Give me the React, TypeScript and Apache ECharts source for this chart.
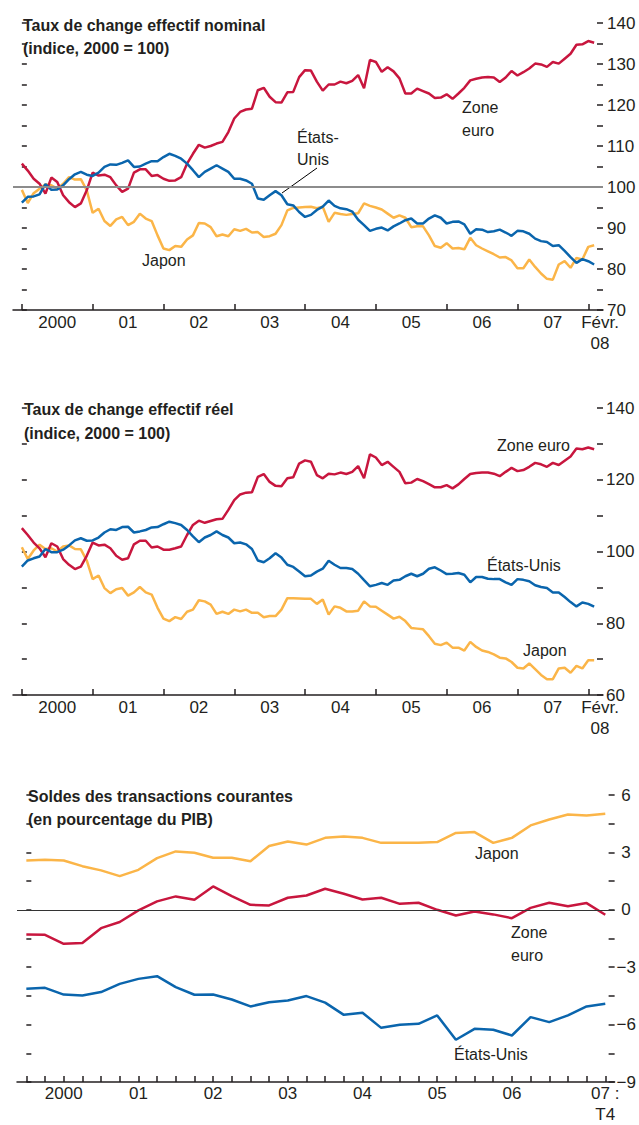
import React, { useEffect, useRef } from 'react';
import * as echarts from 'echarts';

const FONT = "'Liberation Sans', Arial, Helvetica, sans-serif";
const RED = '#c8163e';
const BLUE = '#0a65ad';
const YELLOW = '#fbb548';
const INK = '#231f20';

// ---- Panel 1: nominal effective exchange rate (monthly, Jan 2000 - Feb 2008)
const euroNominal = [
  105.7, 104, 102, 100.8, 98.4, 102.3, 101.2, 98, 96.3, 95.1, 96, 99.2,
  103.5, 102.8, 103, 102.4, 100.4, 98.8, 99.6, 103.5, 104.3, 104.3, 102.7, 102.9,
  102, 101.5, 101.6, 102.4, 105.7, 108.1, 110.3, 109.6, 110, 110.6, 111, 113.4,
  116.7, 118.3, 118.9, 119.1, 123.6, 124.2, 122, 120.7, 120.6, 123.1, 123.2, 126.8,
  128.5, 128.4, 125.7, 123.5, 125, 125, 125.7, 125.3, 125.9, 127.3, 124.1, 131,
  130.5, 128.1, 129.2, 128.2, 126.5, 122.8, 122.8, 124, 123.4, 122.8, 121.7, 121.8,
  122.6, 121.5, 122.8, 124.2, 126, 126.4, 126.7, 126.8, 126.7, 125.6, 126.7, 128.3,
  127.2, 128, 128.9, 130.1, 129.9, 129.3, 130.5, 130.1, 131.3, 132.5, 134.7, 134.8,
  135.6, 135.2,
];
const usNominal = [
  96.2, 97.6, 97.7, 98.2, 100.7, 99.3, 99.4, 100.4, 101.9, 103.1, 103.7, 103,
  102.7, 103.5, 104.9, 105.5, 105.4, 105.9, 106.5, 104.9, 105, 105.7, 106.3, 106.3,
  107.3, 108.1, 107.6, 106.9, 105.7, 104.1, 102.4, 103.7, 104.5, 105.3, 104.5, 103.7,
  102, 102, 101.6, 100.8, 97.2, 96.9, 98, 99, 98, 95.8, 95.5, 93.9,
  92.7, 93.2, 94.4, 95.2, 96.7, 95.4, 94.8, 94.6, 94, 92, 90.7, 89.3,
  89.8, 90.1, 89.4, 90.4, 91.1, 91.9, 92.3, 91.1, 91.1, 92.3, 93.1, 92.5,
  91.1, 91.5, 91.6, 90.9, 88.6, 89.7, 89.6, 89, 89.2, 89.6, 88.9, 88.1,
  89.3, 89.2, 88.6, 87.4, 86.8, 86.6, 85.6, 85.8, 84.4, 82.9, 81.5, 82.4,
  81.9, 81.1,
];
const japanNominal = [
  99.3, 96.1, 98.5, 99.6, 100.6, 100.4, 99.6, 100.8, 102.4, 101.8, 101.9, 99.2,
  93.7, 94.7, 91.7, 90.5, 92.1, 92.7, 90.7, 91.5, 93.5, 92.3, 91.7, 88.2,
  85, 84.6, 85.6, 85.4, 87.2, 88.2, 91.2, 91.1, 90.2, 88, 88.4, 88,
  89.7, 89.3, 89.8, 88.9, 89, 87.8, 88, 88.6, 90.7, 94.3, 94.9, 95,
  95.1, 95.2, 94.8, 95.2, 91.5, 93.7, 93.4, 93.2, 93.4, 93.6, 96, 95.4,
  95, 94.5, 93.5, 92.5, 93.1, 92.5, 90.2, 90.4, 90.4, 88.2, 85.6, 85.2,
  86.3, 85, 85.1, 84.8, 87.6, 85.8, 85, 84.3, 83.6, 82.8, 82.9, 82.1,
  80.2, 80.2, 82.3, 80.5, 78.9, 77.6, 77.4, 81.1, 81.9, 80.3, 82.7, 82.3,
  85.4, 85.8,
];

// ---- Panel 2: real effective exchange rate (monthly)
const euroReal = [
  106.5, 104.6, 102.5, 100.9, 98.4, 102.3, 101.4, 97.9, 96.3, 95.1, 95.8, 98.8,
  102.5, 101.7, 101.9, 100.9, 98.8, 97.7, 98.1, 102, 103, 103, 101.1, 101.4,
  100.5, 100.5, 100.9, 101.4, 104.6, 107.4, 108.6, 108, 108.5, 109, 109.1, 111.6,
  114.3, 115.9, 116.4, 116.5, 120.8, 121.6, 119.4, 118.3, 118.2, 120.4, 120.7, 124.5,
  125.4, 125, 121.3, 120.4, 121.7, 121.5, 122, 121.6, 122.2, 123.8, 120.4, 127.1,
  126.2, 124.1, 125, 123.6, 122.2, 119, 119.2, 120.2, 119.6, 118.8, 117.9, 117.9,
  118.5, 117.6, 118.7, 120.2, 121.6, 121.9, 122, 122, 121.7, 121, 122.2, 123.3,
  122.4, 122.7, 123.6, 124.7, 124.3, 123.6, 124.7, 124.1, 125.3, 126.5, 128.7, 128.5,
  129, 128.5,
];
const usReal = [
  95.8, 97.5, 98.1, 98.6, 100.7, 99.8, 99.8, 100.5, 101.7, 103.1, 103.7, 103,
  103.1, 103.9, 105.3, 106.2, 106, 106.8, 106.9, 105.3, 105.6, 106, 106.7, 106.8,
  107.6, 108.3, 107.9, 107.4, 106, 104.2, 102.6, 103.9, 104.6, 105.6, 104.6, 103.9,
  102.3, 102.5, 102, 100.7, 97.5, 97, 98.1, 99.5, 98.3, 96.3, 95.7, 94.4,
  93.1, 93.3, 94.4, 95.2, 97.4, 96.3, 95.4, 95.4, 95.1, 93.8, 92, 90.3,
  90.7, 91.2, 90.7, 91.9, 92.1, 93.1, 93.8, 93.1, 93.8, 95.2, 95.6, 94.7,
  93.7, 93.8, 94, 93.5, 91.4, 92.9, 92.9, 92.4, 92.3, 92.3, 91.4, 90.7,
  92.3, 92.1, 91.7, 90.6, 90.1, 89.8, 88.6, 88.6, 87.3, 85.9, 84.7, 85.8,
  85.4, 84.6,
];
const japanReal = [
  101.2, 97.9, 100.3, 101.9, 100.7, 100.9, 100, 101.4, 101.7, 100.7, 100.6, 97.5,
  92.3, 93.3, 89.8, 88.4, 89.5, 89.8, 87.7, 88.6, 90.1, 88.6, 88, 84.3,
  81.3, 80.6, 81.7, 81.2, 83.2, 83.8, 86.4, 86.1, 85.2, 82.6, 83.2, 82.6,
  83.8, 83.3, 83.8, 82.9, 82.9, 81.7, 82, 82, 83.8, 87, 87, 86.9,
  86.8, 86.8, 85.4, 86.6, 82.4, 84.7, 84.3, 83.3, 83.3, 83.5, 86.1, 84.7,
  84.6, 83.5, 82.4, 81.3, 81.8, 80.6, 78.7, 78.5, 78.3, 76.4, 74.3, 73.9,
  74.6, 73.2, 73.2, 72.4, 74.8, 73.4, 72.4, 72, 71.3, 70.4, 70.2, 69.2,
  67.6, 67.4, 68.8, 67.2, 65.6, 64.4, 64.4, 67.4, 67.6, 66.2, 68.1, 67.4,
  69.7, 69.7,
];

// ---- Panel 3: current account balances (% of GDP, quarterly 2000 T1 - 2007 T4)
const japanCA = [
  2.58, 2.61, 2.58, 2.28, 2.06, 1.76, 2.09, 2.7, 3.05, 2.98, 2.72, 2.72, 2.54, 3.33, 3.57, 3.41,
  3.76, 3.83, 3.76, 3.5, 3.5, 3.5, 3.54, 4.02, 4.06, 3.5, 3.76, 4.41, 4.72, 4.98, 4.93, 5.02,
];
const euroCA = [
  -1.29, -1.31, -1.78, -1.74, -0.96, -0.64, -0.03, 0.44, 0.7, 0.52, 1.22, 0.71, 0.26, 0.23, 0.63, 0.75,
  1.1, 0.84, 0.54, 0.63, 0.31, 0.37, 0, -0.3, -0.09, -0.24, -0.44, 0.1, 0.37, 0.19, 0.35, -0.26,
];
const usCA = [
  -4.13, -4.08, -4.43, -4.48, -4.3, -3.87, -3.61, -3.47, -4.04, -4.44, -4.43, -4.69, -5.05, -4.83, -4.74, -4.51,
  -4.85, -5.49, -5.38, -6.17, -6.01, -5.96, -5.52, -6.79, -6.22, -6.27, -6.57, -5.61, -5.87, -5.52, -5.05, -4.91,
];

// ---- tick labels
const monthYearLabels = ['2000', '01', '02', '03', '04', '05', '06', '07'];
const monthLastLabel = 'Févr.\n08';
const quarterYearLabels = ['2000', '01', '02', '03', '04', '05', '06'];
const quarterLastLabel = '07 :\nT4';

const yearTickMonths = [0, 12, 24, 36, 48, 60, 72, 84, 96];
const yearLabelMonths = [6, 18, 30, 42, 54, 66, 78, 90, 98];
const quarterTicks = Array.from({ length: 32 }, (_, i) => i);
const quarterLabelPos = [2, 6, 10, 14, 18, 22, 26, 31];

const toPairs = (arr: number[]) => arr.map((v, i) => [i, v]);

const lineStyleAxis = { color: INK, width: 1.5 };

function monthXAxis(gridIndex: number) {
  return {
    type: 'value',
    gridIndex,
    min: -1.5,
    max: 98.5,
    axisLine: { show: true, onZero: false, lineStyle: lineStyleAxis },
    axisTick: { show: true, inside: true, length: 6, lineStyle: lineStyleAxis, customValues: yearTickMonths },
    axisLabel: {
      show: true,
      customValues: yearLabelMonths,
      formatter: (v: number) => (v === 98 ? monthLastLabel : monthYearLabels[Math.round((v - 6) / 12)] ?? ''),
      fontSize: 17,
      fontFamily: FONT,
      color: INK,
      margin: 2,
      lineHeight: 21,
    },
    splitLine: { show: false },
  };
}

function quarterXAxis(gridIndex: number) {
  return {
    type: 'value',
    gridIndex,
    min: -0.5,
    max: 31.5,
    axisLine: { show: true, onZero: false, lineStyle: lineStyleAxis },
    axisTick: { show: true, inside: true, length: 6, lineStyle: lineStyleAxis, customValues: quarterTicks },
    axisLabel: {
      show: true,
      customValues: quarterLabelPos,
      formatter: (v: number) => (v === 31 ? quarterLastLabel : quarterYearLabels[Math.round((v - 2) / 4)] ?? ''),
      fontSize: 17,
      fontFamily: FONT,
      color: INK,
      margin: 1,
      lineHeight: 21,
    },
    splitLine: { show: false },
  };
}

function yAxisPair(gridIndex: number, min: number, max: number, interval: number, labelEvery: number, margin: number, neg: boolean) {
  return [
    {
      type: 'value',
      gridIndex,
      position: 'right',
      min,
      max,
      interval,
      axisLine: { show: true, onZero: false, lineStyle: { color: 'rgba(0,0,0,0)', width: 0 } },
      axisTick: { show: true, inside: true, length: 6, lineStyle: lineStyleAxis },
      axisLabel: {
        show: true,
        margin,
        fontSize: 17,
        lineHeight: 15,
        fontFamily: FONT,
        color: INK,
        align: 'left',
        formatter: (v: number) => {
          const r = Math.round(v * 100) / 100;
          if (Math.abs(r / labelEvery - Math.round(r / labelEvery)) > 1e-6) return '';
          if (!neg) return String(r);
          return r < 0 ? '\u2212' + String(Math.abs(r)) : ' ' + String(r);
        },
      },
      splitLine: { show: false },
    },
    {
      type: 'value',
      gridIndex,
      position: 'left',
      min,
      max,
      interval,
      axisLine: { show: false },
      axisTick: { show: true, inside: true, length: 5, lineStyle: lineStyleAxis },
      axisLabel: { show: false },
      splitLine: { show: false },
    },
  ];
}

function lineSeries(name: string, data: number[], color: string, xi: number, yi: number, extra: any = {}) {
  return {
    name,
    type: 'line',
    xAxisIndex: xi,
    yAxisIndex: yi,
    data: toPairs(data),
    symbol: 'none',
    lineStyle: { color, width: 2.5 },
    itemStyle: { color },
    silent: true,
    ...extra,
  };
}

function txt(text: string, x: number, baseline: number, size: number, bold: boolean, align: string = 'left') {
  return {
    type: 'text',
    x,
    y: baseline - size * 0.35,
    silent: true,
    style: {
      text,
      fill: INK,
      fontSize: size,
      fontFamily: FONT,
      fontWeight: bold ? 'bold' : 'normal',
      textAlign: align,
      textVerticalAlign: 'middle',
    },
  };
}

export default function App() {
  const ref = useRef<HTMLDivElement>(null);

  useEffect(() => {
    if (!ref.current) return;
    const chart = echarts.init(ref.current, undefined, { renderer: 'svg' });
    const yAxes = [
      ...yAxisPair(0, 70, 140, 5, 10, 4, false),
      ...yAxisPair(1, 60, 140, 10, 20, 3, false),
      ...yAxisPair(2, -9, 6, 1.5, 3, 2, true),
    ];
    const option: any = {
      animation: false,
      textStyle: { fontFamily: FONT },
      grid: [
        { left: 13, width: 590, top: 23, height: 287 },
        { left: 13, width: 590, top: 408, height: 287 },
        { left: 17, width: 598, top: 795, height: 287 },
      ],
      xAxis: [monthXAxis(0), monthXAxis(1), quarterXAxis(2)],
      yAxis: yAxes,
      series: [
        lineSeries('Japon', japanNominal, YELLOW, 0, 0, {
          markLine: {
            silent: true,
            symbol: 'none',
            label: { show: false },
            lineStyle: { color: '#8c8c8c', width: 2, type: 'solid' },
            data: [{ yAxis: 100 }],
          },
        }),
        lineSeries('Zone euro', euroNominal, RED, 0, 0),
        lineSeries('États-Unis', usNominal, BLUE, 0, 0),
        lineSeries('Japon', japanReal, YELLOW, 1, 2),
        lineSeries('Zone euro', euroReal, RED, 1, 2),
        lineSeries('États-Unis', usReal, BLUE, 1, 2),
        lineSeries('Japon', japanCA, YELLOW, 2, 4, {
          markLine: {
            silent: true,
            symbol: 'none',
            label: { show: false },
            lineStyle: { color: '#333333', width: 1, type: 'solid' },
            data: [{ yAxis: 0 }],
          },
        }),
        lineSeries('Zone euro', euroCA, RED, 2, 4),
        lineSeries('États-Unis', usCA, BLUE, 2, 4),
      ],
      graphic: [
        txt('Taux de change effectif nominal', 23, 31, 16, true),
        txt('(indice, 2000 = 100)', 23, 54, 16, true),
        txt('États-', 297, 143, 16, false),
        txt('Unis', 297, 165, 16, false),
        {
          type: 'line',
          silent: true,
          shape: { x1: 317, y1: 168, x2: 282, y2: 193 },
          style: { stroke: '#000', lineWidth: 1 },
        },
        txt('Zone', 462, 113, 16, false),
        txt('euro', 462, 136, 16, false),
        txt('Japon', 142, 266, 16, false),

        txt('Taux de change effectif réel', 24, 415.5, 16, true),
        txt('(indice, 2000 = 100)', 24, 439, 16, true),
        txt('Zone euro', 570, 451, 16, false, 'right'),
        txt('États-Unis', 487, 571.5, 16, false),
        txt('Japon', 523, 656, 16, false),

        txt('Soldes des transactions courantes', 28, 802, 16, true),
        txt('(en pourcentage du PIB)', 28, 825, 16, true),
        txt('Japon', 475, 859, 16, false),
        txt('Zone', 511, 938, 16, false),
        txt('euro', 511, 961, 16, false),
        txt('États-Unis', 454, 1060, 16, false),
      ],
    };
    chart.setOption(option);
    return () => chart.dispose();
  }, []);

  return <div ref={ref} style={{ position: 'absolute', left: 0, top: 0, width: 639, height: 1125 }} />;
}
